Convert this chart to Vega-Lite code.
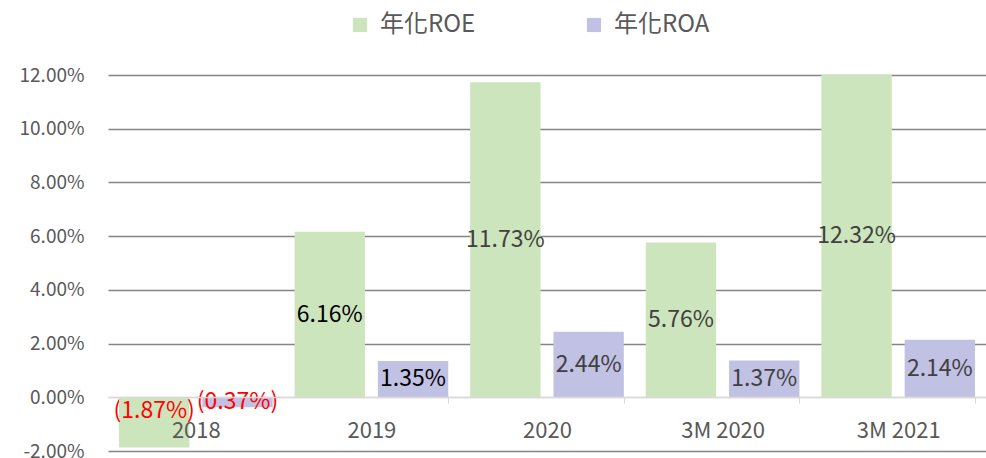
{
  "$schema": "https://vega.github.io/schema/vega-lite/v6.json",
  "width": 878,
  "height": 376,
  "autosize": {"type": "none"},
  "padding": {"left": 108, "top": 75, "right": 0, "bottom": 7},
  "background": "white",
  "config": {"view": {"stroke": null}, "font": "Noto Sans CJK TC"},
  "data": {
    "values": [
      {"period": "2018", "metric": "年化ROE", "value": -0.0187},
      {"period": "2018", "metric": "年化ROA", "value": -0.0037},
      {"period": "2019", "metric": "年化ROE", "value": 0.0616},
      {"period": "2019", "metric": "年化ROA", "value": 0.0135},
      {"period": "2020", "metric": "年化ROE", "value": 0.1173},
      {"period": "2020", "metric": "年化ROA", "value": 0.0244},
      {"period": "3M 2020", "metric": "年化ROE", "value": 0.0576},
      {"period": "3M 2020", "metric": "年化ROA", "value": 0.0137},
      {"period": "3M 2021", "metric": "年化ROE", "value": 0.1232},
      {"period": "3M 2021", "metric": "年化ROA", "value": 0.0214}
    ]
  },
  "encoding": {
    "x": {
      "field": "period",
      "type": "nominal",
      "sort": ["2018", "2019", "2020", "3M 2020", "3M 2021"],
      "scale": {"paddingInner": 0.125, "paddingOuter": 0.0625},
      "axis": {
        "title": null,
        "labelAngle": 0,
        "offset": -54,
        "zindex": 1,
        "domainColor": "#d9d9d9",
        "domainWidth": 1.5,
        "tickBand": "extent",
        "tickColor": "#d9d9d9",
        "tickSize": 6,
        "labelFontSize": 22,
        "labelColor": "#595959",
        "labelPadding": 17
      }
    },
    "xOffset": {
      "field": "metric",
      "type": "nominal",
      "sort": ["年化ROE", "年化ROA"],
      "scale": {"paddingInner": 0.155, "paddingOuter": 0}
    }
  },
  "layer": [
    {
      "mark": {"type": "bar", "clip": true},
      "encoding": {
        "y": {
          "field": "value",
          "type": "quantitative",
          "scale": {"domain": [-0.02, 0.12], "nice": false},
          "axis": {
            "title": null,
            "values": [-0.02, 0, 0.02, 0.04, 0.06, 0.08, 0.1, 0.12],
            "format": ".2%",
            "labelExpr": "replace(datum.label, '−', '-')",
            "grid": true,
            "gridColor": {"condition": {"test": "datum.value === 0", "value": "#d9d9d9"}, "value": "#858585"},
            "gridWidth": 1.5,
            "domain": false,
            "ticks": false,
            "labelPadding": 24,
            "labelFontSize": 19,
            "labelColor": "#595959"
          }
        },
        "color": {
          "field": "metric",
          "type": "nominal",
          "sort": ["年化ROE", "年化ROA"],
          "scale": {"domain": ["年化ROE", "年化ROA"], "range": ["#cde5bd", "#c1c1e3"]},
          "legend": {
            "title": null,
            "orient": "none",
            "legendX": 240,
            "legendY": -62,
            "direction": "horizontal",
            "symbolType": "square",
            "symbolSize": 200,
            "symbolStrokeWidth": 0,
            "labelFontSize": 24,
            "labelColor": "#595959",
            "labelOffset": 8,
            "columnPadding": 106
          }
        }
      }
    },
    {
      "transform": [
        {"calculate": "datum.value < 0 ? max(datum.value / 2, -0.005) : min(datum.value, 0.12) / 2", "as": "labelY"}
      ],
      "mark": {"type": "text", "fontSize": 23},
      "encoding": {
        "y": {"field": "labelY", "type": "quantitative", "scale": {"domain": [-0.02, 0.12], "nice": false}},
        "text": {"field": "value", "type": "quantitative", "format": "(.2%"},
        "color": {
          "condition": [
            {"test": "datum.value < 0", "value": "#ff0000"},
            {"test": "datum.period === '2019'", "value": "#000000"}
          ],
          "value": "#404040"
        }
      }
    }
  ]
}
